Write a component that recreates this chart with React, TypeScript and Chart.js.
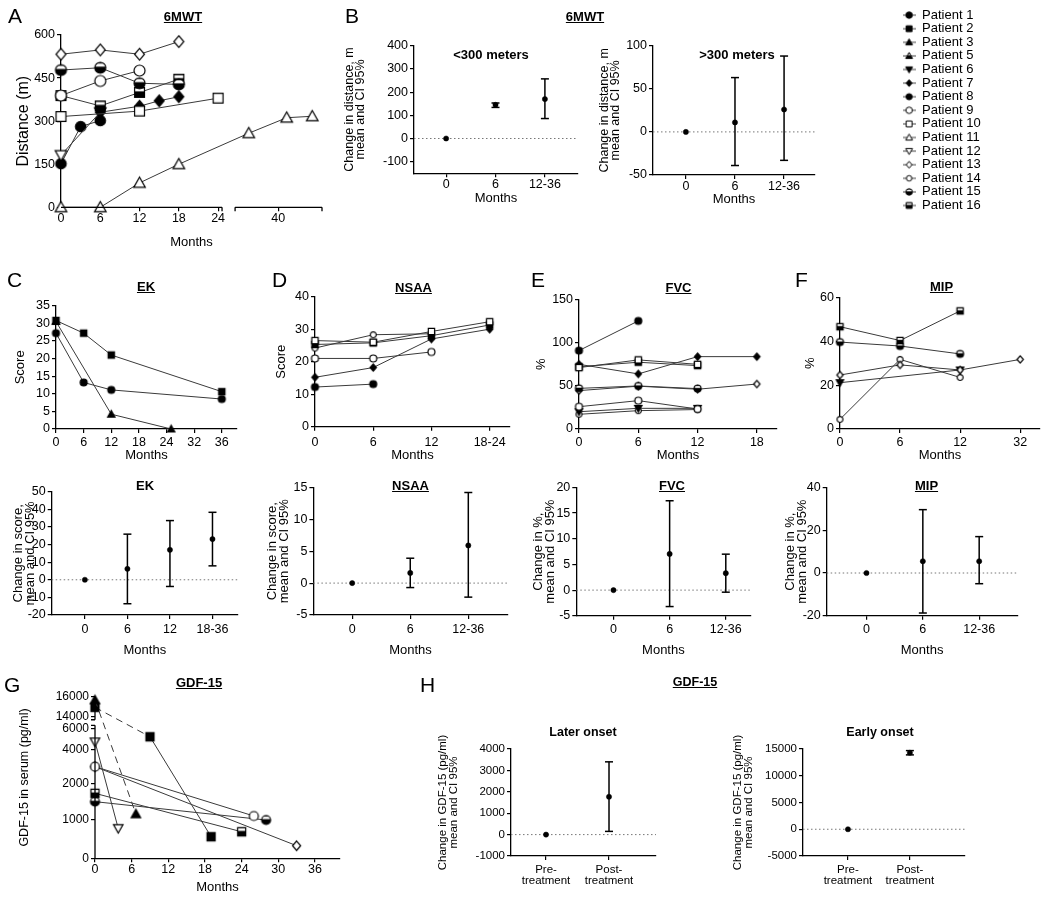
import React, { useEffect, useRef } from 'react';
import { Chart, registerables, LinearScale } from 'chart.js';

Chart.register(...registerables);

const FONT = "'Liberation Sans', Arial, Helvetica, sans-serif";
const NARROW = "'Liberation Sans Narrow', 'Arial Narrow', 'Liberation Sans', Arial, sans-serif";
Chart.defaults.font.family = FONT;
Chart.defaults.color = '#000';

// ======================= DATA =======================
const LEGEND_PATIENTS = ['Patient 1', 'Patient 2', 'Patient 3', 'Patient 5', 'Patient 6', 'Patient 7', 'Patient 8',
  'Patient 9', 'Patient 10', 'Patient 11', 'Patient 12', 'Patient 13', 'Patient 14', 'Patient 15', 'Patient 16'];

// A – 6MWT distance (m)
const A_X_TICKS = [0, 6, 12, 18, 24, 40];
const A_Y_TICKS = [0, 150, 300, 450, 600];
const A_SERIES = [
  { patient: 'Patient 13', months: [0, 6, 12, 18], values: [533, 548, 533, 577] },
  { patient: 'Patient 15', months: [0, 6, 12, 18], values: [478, 486, 432, 428] },
  { patient: 'Patient 9', months: [0, 6, 12], values: [389, 440, 476] },
  { patient: 'Patient 16', months: [0, 6, 12, 18], values: [389, 353, 400, 446] },
  { patient: 'Patient 10', months: [0, 12, 24], values: [316, 335, 380] },
  { patient: 'Patient 7', months: [6, 12, 15, 18], values: [331, 352, 371, 385] },
  { patient: 'Patient 12', months: [0, 6], values: [182, 331] },
  { patient: 'Patient 8', months: [0, 3, 6], values: [152, 281, 302] },
  { patient: 'Patient 11', months: [0, 6, 12, 18, 35.5, 41.3, 45.2], values: [0, 0, 85, 150, 258, 312, 317] },
];

// B – 6MWT change
const B_CATS = ['0', '6', '12-36'];
const B_LT300_MEAN = [0, 145, 170];
const B_LT300_LO = [null, 134, 86];
const B_LT300_HI = [null, 153, 257];
const B_LT300_Y_TICKS = [-100, 0, 100, 200, 300, 400];
const B_GT300_MEAN = [0, 11, 26];
const B_GT300_LO = [null, -39, -33];
const B_GT300_HI = [null, 63, 88];
const B_GT300_Y_TICKS = [-50, 0, 50, 100];

// C – EK score
const C_X_TICKS = [0, 6, 12, 18, 24, 30, 36];
const C_X_LABELS = ['0', '6', '12', '18', '24', '32', '36'];
const C_Y_TICKS = [0, 5, 10, 15, 20, 25, 30, 35];
const C_SERIES = [
  { patient: 'Patient 2', months: [0, 6, 12, 36], values: [30.8, 27.2, 21, 10.6] },
  { patient: 'Patient 1', months: [0, 6, 12, 36], values: [27.2, 13.2, 11.1, 8.5] },
  { patient: 'Patient 3', months: [0, 12, 25], values: [30.5, 4.2, 0] },
];

// D – NSAA score
const D_CATS = ['0', '6', '12', '18-24'];
const D_Y_TICKS = [0, 10, 20, 30, 40];
const D_SERIES = [
  { patient: 'Patient 10', values: [26.5, 26, 29.3, 32.3] },
  { patient: 'Patient 2', values: [25.3, 25.8, 28, 31.3] },
  { patient: 'Patient 14', values: [24.2, 28.3, 28.6, null] },
  { patient: 'Patient 9', values: [21, 21, 23, null] },
  { patient: 'Patient 7', values: [15.2, 18.2, 27, 30] },
  { patient: 'Patient 1', values: [12.2, 13.1, null, null] },
];

// E – FVC %
const E_CATS = ['0', '6', '12', '18'];
const E_Y_TICKS = [0, 50, 100, 150];
const E_SERIES = [
  { patient: 'Patient 1', values: [90.7, 125, null, null] },
  { patient: 'Patient 10', values: [71, 79.9, 74.8, null] },
  { patient: 'Patient 2', values: [72, 77.2, 73.3, null] },
  { patient: 'Patient 7', values: [74.8, 63.7, 83.7, 83.7] },
  { patient: 'Patient 15', values: [47, 49.8, 46.7, null] },
  { patient: 'Patient 13', values: [44.4, 49.5, 46, 52] },
  { patient: 'Patient 9', values: [25.8, 32.8, 23.1, null] },
  { patient: 'Patient 6', values: [20, 23.9, 23.9, null] },
  { patient: 'Patient 14', values: [17, 21.2, 22.5, null] },
];

// F – MIP %
const F_CATS = ['0', '6', '12', '32'];
const F_Y_TICKS = [0, 20, 40, 60];
const F_SERIES = [
  { patient: 'Patient 16', values: [46.6, 40.3, 53.8, null] },
  { patient: 'Patient 15', values: [39.6, 37.8, 34.2, null] },
  { patient: 'Patient 13', values: [24.6, 29.2, 26.9, 31.7] },
  { patient: 'Patient 6', values: [21.1, null, 26.9, null] },
  { patient: 'Patient 14', values: [4.4, 31.7, 23.5, null] },
];

// Change panels (bottom of C–F)
const EK_CATS = ['0', '6', '12', '18-36'];
const EK_MEAN = [0, 6.2, 17, 23.1];
const EK_LO = [null, -13.6, -3.8, 7.9];
const EK_HI = [null, 25.9, 33.6, 38.3];
const EK_Y_TICKS = [-20, -10, 0, 10, 20, 30, 40, 50];

const NSAA_CATS = ['0', '6', '12-36'];
const NSAA_MEAN = [0, 1.6, 5.9];
const NSAA_LO = [null, -0.7, -2.2];
const NSAA_HI = [null, 3.9, 14.2];
const NSAA_Y_TICKS = [-5, 0, 5, 10, 15];

const FVC_CATS = ['0', '6', '12-36'];
const FVC_MEAN = [0, 7.05, 3.3];
const FVC_LO = [null, -3.2, -0.4];
const FVC_HI = [null, 17.4, 7.0];
const FVC_Y_TICKS = [-5, 0, 5, 10, 15, 20];

const MIP_CATS = ['0', '6', '12-36'];
const MIP_MEAN = [0, 5.5, 5.5];
const MIP_LO = [null, -18.7, -5];
const MIP_HI = [null, 29.6, 17];
const MIP_Y_TICKS = [-20, 0, 20, 40];

// G – GDF-15 in serum
const G_X_TICKS = [0, 6, 12, 18, 24, 30, 36];
const G_Y_TICKS = [0, 1000, 2000, 4000, 6000, 14000, 16000];
const G_SERIES = [
  { patient: 'Patient 3', months: [0, 6.7], values: [15670, 1163] },
  { patient: 'Patient 2', months: [0, 9, 19], values: [14940, 5226, 564] },
  { patient: 'Patient 12', months: [0, 3.8], values: [4765, 783] },
  { patient: 'Patient 9', months: [0, 26], values: [3000, 1109] },
  { patient: 'Patient 13', months: [0, 33], values: [3000, 329] },
  { patient: 'Patient 16', months: [0, 24], values: [1727, 693] },
  { patient: 'Patient 15', months: [0, 28], values: [1500, 1000] },
];

// H – GDF-15 change
const H_CATS = [['Pre-', 'treatment'], ['Post-', 'treatment']];
const H_LATE_MEAN = [0, 1769];
const H_LATE_LO = [null, 150];
const H_LATE_HI = [null, 3400];
const H_LATE_Y_TICKS = [-1000, 0, 1000, 2000, 3000, 4000];
const H_EARLY_MEAN = [0, 14300];
const H_EARLY_LO = [null, 13900];
const H_EARLY_HI = [null, 14700];
const H_EARLY_Y_TICKS = [-5000, 0, 5000, 10000, 15000];

// ======================= SEGMENTED AXES (GraphPad-style breaks) =======================
const A_X_KNOTS = [[0, 0], [24.6, 0.617], [33.4, 0.667], [46.7, 1]];
const A_X_GAP = [24.6, 33.4];
const G_Y_KNOTS = [[0, 0], [1000, 0.237], [2000, 0.464], [4000, 0.67], [6000, 0.804], [14000, 0.876], [16000, 1]];
const G_Y_GAP = [6000, 14000];

function interp(knots: number[][], v: number, from: number) {
  const to = 1 - from;
  let i = 0;
  while (i < knots.length - 2 && v > knots[i + 1][from]) i++;
  const a = knots[i], b = knots[i + 1];
  return a[to] + ((v - a[from]) * (b[to] - a[to])) / (b[from] - a[from]);
}
function registerPiecewise(id: string, knots: number[][]) {
  const Base: any = LinearScale;
  class Piecewise extends Base {
    static id = id;
    static defaults = {};
    getPixelForValue(value: number) {
      if (value === null || value === undefined || Number.isNaN(value)) return NaN;
      return (this as any).getPixelForDecimal(interp(knots, value, 0));
    }
    getValueForPixel(pixel: number) {
      return interp(knots, (this as any).getDecimalForPixel(pixel), 1);
    }
  }
  Chart.register(Piecewise as any);
}
registerPiecewise('brokenX', A_X_KNOTS);
registerPiecewise('gdfY', G_Y_KNOTS);

const brokenAxisPlugin = {
  id: 'brokenAxis',
  afterDraw(chart: any, _args: any, opts: any) {
    if (!opts || !opts.axis) return;
    const { ctx, chartArea } = chart;
    const scale = chart.scales[opts.axis];
    const p0 = scale.getPixelForValue(opts.gap[0]);
    const p1 = scale.getPixelForValue(opts.gap[1]);
    ctx.save();
    ctx.strokeStyle = '#000';
    ctx.lineWidth = 1.3;
    ctx.beginPath();
    if (opts.axis === 'x') {
      const y = chartArea.bottom;
      ctx.moveTo(chartArea.left, y); ctx.lineTo(p0, y);
      ctx.moveTo(p1, y); ctx.lineTo(chartArea.right, y);
      [p0, p1, chartArea.right].forEach((x) => { ctx.moveTo(x, y); ctx.lineTo(x, y + 4); });
    } else {
      const x = chartArea.left;
      const a = p0 - 3, b = p1 + 3;
      ctx.moveTo(x, chartArea.bottom); ctx.lineTo(x, a);
      ctx.moveTo(x, b); ctx.lineTo(x, chartArea.top);
      [a, b].forEach((y) => { ctx.moveTo(x, y); ctx.lineTo(x - 4, y); });
    }
    ctx.stroke();
    ctx.restore();
  },
};
Chart.register(brokenAxisPlugin);

// ======================= MARKERS =======================
type Shape = 'circle' | 'square' | 'triangle' | 'triDown' | 'diamond';
type Fill = 'black' | 'white' | 'half';
const MARKERS: Record<string, [Shape, Fill, number]> = {
  'Patient 1': ['circle', 'black', 1],
  'Patient 2': ['square', 'black', 1],
  'Patient 3': ['triangle', 'black', 1],
  'Patient 5': ['triangle', 'half', 1],
  'Patient 6': ['triDown', 'black', 1],
  'Patient 7': ['diamond', 'black', 1],
  'Patient 8': ['circle', 'black', 0.95],
  'Patient 9': ['circle', 'white', 1],
  'Patient 10': ['square', 'white', 1],
  'Patient 11': ['triangle', 'white', 1],
  'Patient 12': ['triDown', 'white', 1],
  'Patient 13': ['diamond', 'white', 1],
  'Patient 14': ['circle', 'white', 0.85],
  'Patient 15': ['circle', 'half', 1],
  'Patient 16': ['square', 'half', 1],
};

function shapePath(ctx: CanvasRenderingContext2D, shape: Shape, s: number) {
  const r = s / 2;
  ctx.beginPath();
  if (shape === 'circle') ctx.arc(0, 0, r, 0, Math.PI * 2);
  else if (shape === 'square') ctx.rect(-r * 0.9, -r * 0.9, r * 1.8, r * 1.8);
  else if (shape === 'triangle') { ctx.moveTo(0, -r * 1.05); ctx.lineTo(r * 1.05, r * 0.8); ctx.lineTo(-r * 1.05, r * 0.8); ctx.closePath(); }
  else if (shape === 'triDown') { ctx.moveTo(0, r * 1.05); ctx.lineTo(r * 1.05, -r * 0.8); ctx.lineTo(-r * 1.05, -r * 0.8); ctx.closePath(); }
  else { ctx.moveTo(0, -r * 1.05); ctx.lineTo(r * 0.9, 0); ctx.lineTo(0, r * 1.05); ctx.lineTo(-r * 0.9, 0); ctx.closePath(); }
}

const markerCache = new Map<string, HTMLCanvasElement>();
function marker(patient: string, size: number, lineLen = 0, lw = 1.2) {
  const key = patient + '|' + size + '|' + lineLen;
  const hit = markerCache.get(key);
  if (hit) return hit;
  const [shape, fill, k] = MARKERS[patient];
  const s = size * k;
  const c = document.createElement('canvas');
  const dim = Math.ceil(size + 2 * lw + 3);
  c.width = Math.max(dim, Math.ceil(lineLen));
  c.height = dim;
  const ctx = c.getContext('2d')!;
  ctx.translate(c.width / 2, c.height / 2);
  if (lineLen) {
    ctx.beginPath(); ctx.moveTo(-lineLen / 2, 0); ctx.lineTo(lineLen / 2, 0);
    ctx.strokeStyle = '#444'; ctx.lineWidth = 1; ctx.stroke();
  }
  shapePath(ctx, shape, s);
  ctx.fillStyle = fill === 'white' ? '#fff' : '#000';
  ctx.fill();
  if (fill === 'half') {
    ctx.save(); ctx.clip(); ctx.fillStyle = '#fff';
    ctx.fillRect(-s, -s * 0.38, s * 2, s * 0.28);
    ctx.restore();
  }
  ctx.lineWidth = lw; ctx.strokeStyle = '#000'; ctx.stroke();
  markerCache.set(key, c);
  return c;
}

// ======================= LAYOUT HELPERS =======================
type Area = { L: number; T: number; R: number; B: number };
interface Frame { left: number; top: number; width: number; height: number; padL: number; padT: number; padR: number; padB: number; yw: number; xh: number; area: Area }

function frame(area: Area, yTitleX: number, yTitleLh: number, xBottom: number): Frame {
  const rawLeft = yTitleX - yTitleLh / 2;
  const left = Math.floor(rawLeft);
  const padL = rawLeft - left;
  const top = Math.max(0, Math.floor(area.T - 40));
  const padT = area.T - top;
  const width = Math.ceil(area.R + 14 - left);
  const padR = width - (area.R - left);
  const xh = xBottom - area.B;
  const height = Math.ceil(Math.min(901, xBottom + 30) - top);
  const padB = height - (xBottom - top);
  const yw = area.L - left - padL;
  return { left, top, width, height, padL, padT, padR, padB, yw, xh, area };
}

interface AxisSpec {
  type?: string; min: number; max: number; ticks: number[]; labels: any[];
  font: any; title?: string | string[]; titleFont?: any; border?: boolean; tickY?: number;
}

function axis(a: AxisSpec, isX: boolean, fr: Frame) {
  const lh = a.font.size * (a.font.lineHeight || 1.2);
  const pad = isX ? Math.max(0, (a.tickY as number) - fr.area.B - 4 - lh / 2) : 2;
  return {
    type: a.type || 'linear',
    min: a.min,
    max: a.max,
    afterBuildTicks: (s: any) => { s.ticks = a.ticks.map((v) => ({ value: v })); },
    afterFit: (s: any) => { if (isX) s.height = fr.xh; else s.width = fr.yw; },
    border: { display: a.border !== false, color: '#000', width: 1.3 },
    grid: { display: true, drawOnChartArea: false, drawTicks: true, tickLength: 4, color: '#000', lineWidth: 1.2 },
    ticks: {
      autoSkip: false, maxRotation: 0, minRotation: 0, padding: pad, font: a.font, color: '#000',
      callback: (_v: any, i: number) => a.labels[i],
    },
    title: a.title
      ? { display: true, text: a.title, font: a.titleFont, padding: 0, color: '#000' }
      : { display: false },
  };
}

function baseConfig(fr: Frame, datasets: any[], x: AxisSpec, y: AxisSpec, broken?: any) {
  return {
    type: 'line',
    data: { datasets },
    options: {
      responsive: false,
      animation: false,
      devicePixelRatio: 1,
      events: [],
      layout: { padding: { left: fr.padL, top: fr.padT, right: fr.padR, bottom: fr.padB } },
      plugins: { legend: { display: false }, tooltip: { enabled: false }, brokenAxis: broken || {} },
      scales: { x: axis(x, true, fr), y: axis(y, false, fr) },
    },
  };
}

function seriesSets(series: any[], size: number, byCategory: boolean, dashAbove?: number) {
  return series.map((s) => {
    const pts = byCategory
      ? s.values.map((v: number | null, i: number) => ({ x: i, y: v })).filter((p: any) => p.y !== null)
      : s.months.map((m: number, i: number) => ({ x: m, y: s.values[i] }));
    const ds: any = {
      label: s.patient,
      data: pts,
      borderColor: '#3a3a3a',
      borderWidth: 1,
      pointStyle: marker(s.patient, size),
      pointRadius: size / 2,
      clip: false,
      tension: 0,
    };
    if (dashAbove !== undefined) {
      ds.segment = { borderDash: (ctx: any) => (ctx.p0.parsed.y > dashAbove ? [7, 5] : undefined) };
    }
    return ds;
  });
}

function ciSets(mean: number[], lo: (number | null)[], hi: (number | null)[], xMin: number, xMax: number) {
  const sets: any[] = [];
  sets.push({
    data: mean.map((m, i) => ({ x: i, y: m })), showLine: false, pointStyle: 'circle', pointRadius: 2.6,
    pointBackgroundColor: '#000', pointBorderColor: '#000', pointBorderWidth: 0.5, clip: false, order: 0,
  });
  mean.forEach((_m, i) => {
    if (lo[i] === null || hi[i] === null) return;
    sets.push({
      data: [{ x: i, y: lo[i] }, { x: i, y: hi[i] }], borderColor: '#000', borderWidth: 1.5,
      pointStyle: 'line', pointRadius: 4, pointBorderWidth: 1.5, pointBorderColor: '#000', clip: false, order: 1,
    });
  });
  sets.push({
    data: [{ x: xMin, y: 0 }, { x: xMax, y: 0 }], borderColor: '#777', borderWidth: 1, borderDash: [1.5, 2.5],
    pointRadius: 0, clip: false, order: 2,
  });
  return sets;
}

const TICK = { size: 12.5, lineHeight: 1.2 };
const XTITLE = { size: 13, lineHeight: 1.2 };
const MONTHS = 'Months';

// ======================= PANELS =======================
interface Panel { key: string; fr: Frame; make: () => any }
const PANELS: Panel[] = [];

function addSeriesPanel(key: string, area: Area, yTitle: string, yTitleSize: number, yTitleX: number, tickY: number, xTitleY: number,
  x: Partial<AxisSpec>, y: Partial<AxisSpec>, sets: () => any[], broken?: any) {
  const fr = frame(area, yTitleX, yTitleSize * 1.2, xTitleY + 7.8);
  PANELS.push({
    key, fr,
    make: () => baseConfig(fr, sets(),
      { font: TICK, tickY, title: MONTHS, titleFont: XTITLE, ...x } as AxisSpec,
      { font: TICK, title: yTitle, titleFont: { size: yTitleSize, lineHeight: 1.2 }, ...y } as AxisSpec, broken),
  });
}

function addCiPanel(key: string, area: Area, cats: any[], mean: number[], lo: any[], hi: any[], xMin: number, xMax: number,
  yMin: number, yMax: number, yTicks: number[], yTitle: string[], yTitleSize: number, yTitleLh: number, yTitleX: number,
  tickY: number, xTitleY: number | null, opts: any = {}) {
  const xBottom = xTitleY === null ? opts.xBottom : xTitleY + 7.8;
  const fr = frame(area, yTitleX, yTitleLh, xBottom);
  const tickFont = opts.tickFont || TICK;
  PANELS.push({
    key, fr,
    make: () => baseConfig(fr, ciSets(mean, lo, hi, xMin, xMax),
      { min: xMin, max: xMax, ticks: cats.map((_c, i) => i), labels: cats, font: tickFont, tickY,
        title: xTitleY === null ? undefined : MONTHS, titleFont: XTITLE },
      { min: yMin, max: yMax, ticks: yTicks, labels: yTicks.map(String), font: tickFont, title: yTitle,
        titleFont: { size: yTitleSize, lineHeight: yTitleLh / yTitleSize, family: opts.titleFamily || FONT } }),
  });
}

// A
addSeriesPanel('A', { L: 61, T: 35, R: 322, B: 207.3 }, 'Distance (m)', 16, 23.3, 218, 242,
  { type: 'brokenX', min: 0, max: 46.7, ticks: A_X_TICKS, labels: A_X_TICKS.map(String), border: false },
  { min: 0, max: 600, ticks: A_Y_TICKS, labels: A_Y_TICKS.map(String) },
  () => seriesSets(A_SERIES, 11, false),
  { axis: 'x', gap: A_X_GAP });

// B
addCiPanel('B1', { L: 414, T: 45.7, R: 578, B: 173.3 }, B_CATS, B_LT300_MEAN, B_LT300_LO, B_LT300_HI, -0.65, 2.67,
  -150, 400, B_LT300_Y_TICKS, ['Change in distance, m', 'mean and CI 95%'], 12.5, 11, 349.3, 185, 198.3);
addCiPanel('B2', { L: 653, T: 45.7, R: 815, B: 175 }, B_CATS, B_GT300_MEAN, B_GT300_LO, B_GT300_HI, -0.67, 2.63,
  -50, 100, B_GT300_Y_TICKS, ['Change in distance, m', 'mean and CI 95%'], 12.5, 11, 605, 186.5, 199.5);

// C–F top
addSeriesPanel('C', { L: 56, T: 305.7, R: 237, B: 429 }, 'Score', 13, 20, 443, 455,
  { min: 0, max: 39.3, ticks: C_X_TICKS, labels: C_X_LABELS },
  { min: 0, max: 35, ticks: C_Y_TICKS, labels: C_Y_TICKS.map(String) },
  () => seriesSets(C_SERIES, 7, false));
addSeriesPanel('D', { L: 315, T: 296.7, R: 510, B: 426.7 }, 'Score', 13, 281.7, 443, 455,
  { min: 0, max: 3.35, ticks: D_CATS.map((_c, i) => i), labels: D_CATS },
  { min: 0, max: 40, ticks: D_Y_TICKS, labels: D_Y_TICKS.map(String) },
  () => seriesSets(D_SERIES, 7, true));
addSeriesPanel('E', { L: 579, T: 299.3, R: 777, B: 429 }, '%', 13, 541.7, 443, 455,
  { min: 0, max: 3.34, ticks: E_CATS.map((_c, i) => i), labels: E_CATS },
  { min: 0, max: 150, ticks: E_Y_TICKS, labels: E_Y_TICKS.map(String) },
  () => seriesSets(E_SERIES, 7, true));
addSeriesPanel('F', { L: 840, T: 297.3, R: 1040, B: 429 }, '%', 13, 810, 443, 455,
  { min: 0, max: 3.33, ticks: F_CATS.map((_c, i) => i), labels: F_CATS },
  { min: 0, max: 60, ticks: F_Y_TICKS, labels: F_Y_TICKS.map(String) },
  () => seriesSets(F_SERIES, 7, true));

// C–F bottom (change)
addCiPanel('EKc', { L: 51.7, T: 491.7, R: 238, B: 615 }, EK_CATS, EK_MEAN, EK_LO, EK_HI, -0.78, 3.6,
  -20, 50, EK_Y_TICKS, ['Change in score,', 'mean and CI 95%'], 13, 12, 18.2, 630, 650);
addCiPanel('NSAAc', { L: 313.4, T: 487.4, R: 507.5, B: 615 }, NSAA_CATS, NSAA_MEAN, NSAA_LO, NSAA_HI, -0.668, 2.675,
  -5, 15, NSAA_Y_TICKS, ['Change in score,', 'mean and CI 95%'], 13, 12, 272, 630, 650);
addCiPanel('FVCc', { L: 576.3, T: 487.4, R: 750.5, B: 615.8 }, FVC_CATS, FVC_MEAN, FVC_LO, FVC_HI, -0.662, 2.44,
  -5, 20, FVC_Y_TICKS, ['Change in %,', 'mean and CI 95%'], 13, 12, 538.2, 630, 650);
addCiPanel('MIPc', { L: 826.7, T: 487.4, R: 1017.5, B: 615.8 }, MIP_CATS, MIP_MEAN, MIP_LO, MIP_HI, -0.706, 2.68,
  -20, 40, MIP_Y_TICKS, ['Change in %,', 'mean and CI 95%'], 13, 12, 790.3, 630, 650);

// G
addSeriesPanel('G', { L: 95, T: 696.7, R: 340, B: 858.3 }, 'GDF-15 in serum (pg/ml)', 12.5, 25, 870, 887,
  { min: 0, max: 40.1, ticks: G_X_TICKS, labels: G_X_TICKS.map(String) },
  { type: 'gdfY', min: 0, max: 16000, ticks: G_Y_TICKS, labels: G_Y_TICKS.map(String), border: false, font: { size: 12, lineHeight: 1.2 } },
  () => seriesSets(G_SERIES, 9, false, G_Y_GAP[0]),
  { axis: 'y', gap: G_Y_GAP });

// H
const H_TICK = { size: 11.5, lineHeight: 0.95, family: NARROW };
addCiPanel('H1', { L: 511, T: 749, R: 656, B: 856 }, H_CATS, H_LATE_MEAN, H_LATE_LO, H_LATE_HI, -0.556, 1.746,
  -1000, 4000, H_LATE_Y_TICKS, ['Change in GDF-15 (pg/ml)', 'mean and CI 95%'], 11.5, 11, 443, 870, null,
  { xBottom: 895, tickFont: H_TICK, titleFamily: NARROW });
addCiPanel('H2', { L: 803, T: 749, R: 965, B: 856 }, H_CATS, H_EARLY_MEAN, H_EARLY_LO, H_EARLY_HI, -0.726, 1.89,
  -5000, 15000, H_EARLY_Y_TICKS, ['Change in GDF-15 (pg/ml)', 'mean and CI 95%'], 11.5, 11, 738, 870, null,
  { xBottom: 895, tickFont: H_TICK, titleFamily: NARROW });

// Legend
const LEGEND_FRAME = { left: 902, top: 8, width: 200, height: 215 };
function legendConfig() {
  return {
    type: 'line',
    data: {
      datasets: LEGEND_PATIENTS.map((p) => ({
        label: p, data: [], borderColor: '#444', pointStyle: marker(p, 6.5, 13, 1),
      })),
    },
    options: {
      responsive: false, animation: false, devicePixelRatio: 1, events: [],
      layout: { padding: 0 },
      scales: { x: { display: false }, y: { display: false } },
      plugins: {
        tooltip: { enabled: false },
        legend: {
          display: true, position: 'left', align: 'start',
          labels: { usePointStyle: true, boxWidth: 13, boxHeight: 13, padding: 0.6, color: '#000', font: { size: 13 } },
        },
      },
    },
  };
}

// ======================= TEXT OVERLAYS =======================
const LETTERS: [string, number, number][] = [
  ['A', 8, 8], ['B', 345, 8], ['C', 7, 272], ['D', 272, 272], ['E', 531, 272], ['F', 795, 272], ['G', 4, 677], ['H', 420, 677],
];
// [text, centerX, capTopY, underline, narrow]
const TITLES: [string, number, number, boolean, boolean][] = [
  ['6MWT', 183, 12, true, false],
  ['6MWT', 585, 12, true, false],
  ['<300 meters', 491, 50, false, false],
  ['>300 meters', 737, 50, false, false],
  ['EK', 146, 282, true, false],
  ['NSAA', 413.5, 283, true, false],
  ['FVC', 678.5, 283, true, false],
  ['MIP', 941.5, 282, true, false],
  ['EK', 145, 481, false, false],
  ['NSAA', 410.5, 481, true, false],
  ['FVC', 672, 481, true, false],
  ['MIP', 926.5, 481, true, false],
  ['GDF-15', 199, 678, true, false],
  ['GDF-15', 695, 678, true, true],
  ['Later onset', 583, 728, false, true],
  ['Early onset', 880, 728, false, true],
];

function ChartCanvas({ left, top, width, height, make }: { left: number; top: number; width: number; height: number; make: () => any }) {
  const ref = useRef<HTMLCanvasElement>(null);
  useEffect(() => {
    const cv = ref.current as HTMLCanvasElement;
    cv.width = width;
    cv.height = height;
    const chart = new Chart(cv, make());
    return () => chart.destroy();
  }, []);
  return (
    <canvas
      ref={ref}
      width={width}
      height={height}
      style={{ position: 'absolute', left, top, width, height, display: 'block' }}
    />
  );
}

export default function App() {
  return (
    <div style={{ position: 'absolute', left: 0, top: 0, width: 1050, height: 901, overflow: 'hidden', background: '#fff', fontFamily: FONT, color: '#000' }}>
      {PANELS.map((p) => (
        <ChartCanvas key={p.key} left={p.fr.left} top={p.fr.top} width={p.fr.width} height={p.fr.height} make={p.make} />
      ))}
      <ChartCanvas key="legend" {...LEGEND_FRAME} make={legendConfig} />
      {LETTERS.map(([t, x, y]) => (
        <div key={'L' + t} style={{ position: 'absolute', left: x, top: y - 2.8, fontSize: 21, lineHeight: '21px', whiteSpace: 'nowrap' }}>{t}</div>
      ))}
      {TITLES.map(([t, cx, y, u, narrow], i) => (
        <div key={'T' + i} style={{
          position: 'absolute', left: cx, top: y - 1.7, transform: 'translateX(-50%)', fontSize: narrow ? 12.5 : 13, lineHeight: '13px',
          fontWeight: 'bold', textDecoration: u ? 'underline' : 'none', whiteSpace: 'nowrap', fontFamily: narrow ? NARROW : FONT,
        }}>{t}</div>
      ))}
    </div>
  );
}
